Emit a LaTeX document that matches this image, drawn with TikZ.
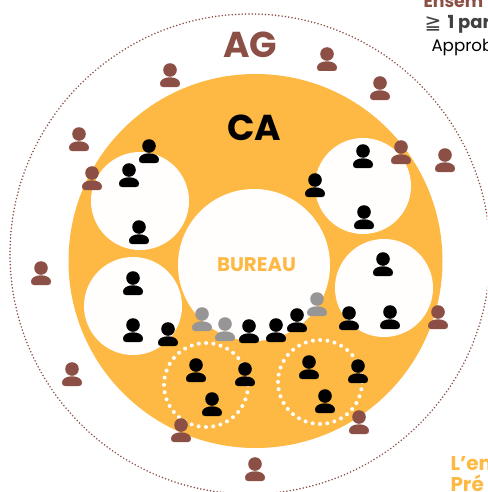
\documentclass[tikz,border=0pt]{standalone}
\usepackage{fontspec}
\setmainfont{Poppins}
\newfontfamily\symbfont{DejaVu Sans}
\definecolor{caorange}{RGB}{253,185,68}
\definecolor{agbrown}{RGB}{139,79,69}
\definecolor{bugray}{RGB}{150,150,150}
\definecolor{snow}{RGB}{255,254,252}
\tikzset{every picture/.style={line width=0.75pt}}
\tikzset{
  person/.pic={
    \fill [#1] (0,5) circle [radius=6.8];
    \fill [#1] (-10,-8.5) .. controls (-10,-4.5) and (-5,-2.3) .. (0,-2.3) .. controls (5,-2.3) and (10,-4.5) .. (10,-8.5) .. controls (10,-11) and (9,-12) .. (7,-12) -- (-7,-12) .. controls (-9,-12) and (-10,-11) .. (-10,-8.5) -- cycle ;
  },
  dotring/.style={draw=snow,line width=3pt,line cap=round,dash pattern=on 0pt off 5.5pt},
  bigtext/.style={inner sep=0pt,font=\bfseries\fontsize{27}{27}\selectfont},
  sidetext/.style={anchor=base west,inner sep=0pt}
}
\begin{document}
\begin{tikzpicture}[x=0.75pt,y=0.75pt,yscale=-1,xscale=1]
\useasboundingbox (0,0) rectangle (487,492);
\clip (0,0) rectangle (487,492);

%Shape: Circle AG
\draw [agbrown,line width=1.3pt,line cap=round,dash pattern=on 0pt off 2.5pt] (250,254) circle [radius=240];
%Shape: Circle CA
\fill [caorange] (255.5,261) circle [radius=187];
%Shape: Circle commissions
\fill [snow] (140,201) circle [radius=49];
\fill [snow] (363,186) circle [radius=48];
\fill [snow] (133,306) circle [radius=49];
\fill [snow] (384,288) circle [radius=49];
%Shape: Circle bureau
\fill [snow] (254,265) circle [radius=76];
%Shape: Circle groupes
\draw [dotring] (206,385) circle [radius=42];
\draw [dotring] (320,382) circle [radius=42];

%AG members
\pic at (170,75) {person=agbrown};
\pic at (327,59) {person=agbrown};
\pic at (380,88) {person=agbrown};
\pic at (79,139) {person=agbrown};
\pic at (92,178) {person=agbrown};
\pic at (401,152) {person=agbrown};
\pic at (445,160) {person=agbrown};
\pic at (41,273) {person=agbrown};
\pic at (438,317) {person=agbrown};
\pic at (72,374) {person=agbrown};
\pic at (181,430) {person=agbrown};
\pic at (359,422) {person=agbrown};
\pic at (255,469) {person=agbrown};
%CA members
\pic at (149,151) {person=black};
\pic at (129,175) {person=black};
\pic at (139,232) {person=black};
\pic at (363,156) {person=black};
\pic at (315,185) {person=black};
\pic at (364,217) {person=black};
\pic at (383,264) {person=black};
\pic at (133,283) {person=black};
\pic at (133,330) {person=black};
\pic at (168,334) {person=black};
\pic at (349,318) {person=black};
\pic at (390,317) {person=black};
\pic at (249,331) {person=black};
\pic at (276,330) {person=black};
\pic at (297,320) {person=black};
\pic at (196,370) {person=black};
\pic at (245,374) {person=black};
\pic at (212,404) {person=black};
\pic at (309,367) {person=black};
\pic at (358,371) {person=black};
\pic at (325,401) {person=black};
%Invited members
\pic at (202,319) {person=bugray};
\pic at (225,329) {person=bugray};
\pic at (317,304) {person=bugray};

% Text Node
\node (ag) [bigtext,text=agbrown] at (250,45) {AG};
\node (ca) [bigtext,text=black] at (254,128) {CA};
\node (bureau) [inner sep=0pt,text=caorange,font=\bfseries\fontsize{14.8}{14.8}\selectfont] at (256.5,265) {BUREAU};
\node (ensem) [sidetext,text=agbrown,font=\bfseries\fontsize{13}{13}\selectfont] at (423,8) {Ensem};
\node (geq) [sidetext,text=black!75,font=\symbfont\fontsize{15}{15}\selectfont] at (424,30) {≧};
\node (part) [sidetext,text=black!75,font=\bfseries\fontsize{13.5}{13.5}\selectfont] at (447,29) {1 par};
\node (approb) [sidetext,text=black,font=\fontsize{12.5}{12.5}\selectfont] at (431,52) {Approb};
\node (len) [sidetext,text=caorange,font=\bfseries\fontsize{15}{15}\selectfont] at (450,470) {L'en};
\node (pre) [sidetext,text=caorange,font=\bfseries\fontsize{15}{15}\selectfont] at (450,491) {Pré};

\end{tikzpicture}
\end{document}
